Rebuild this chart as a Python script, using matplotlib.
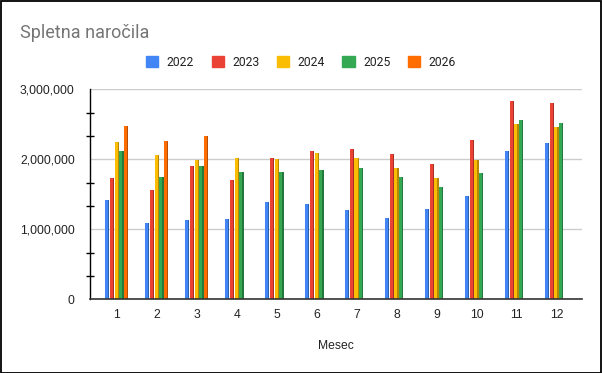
import matplotlib
matplotlib.use("Agg")
import matplotlib.pyplot as plt
import matplotlib.patches as mpatches
from matplotlib.ticker import FuncFormatter, MultipleLocator
from matplotlib.colors import to_rgb
import numpy as np

months = [1, 2, 3, 4, 5, 6, 7, 8, 9, 10, 11, 12]
years = ['2022', '2023', '2024', '2025', '2026']

orders_2022 = [1414000, 1086000, 1129000, 1143000, 1386000, 1357000,
               1271000, 1157000, 1286000, 1471000, 2114000, 2229000]
orders_2023 = [1729000, 1561000, 1900000, 1700000, 2014000, 2114000,
               2143000, 2071000, 1929000, 2271000, 2829000, 2800000]
orders_2024 = [2247000, 2057000, 1990000, 2014000, 2000000, 2086000,
               2014000, 1871000, 1729000, 1986000, 2500000, 2457000]
orders_2025 = [2119000, 1743000, 1900000, 1814000, 1814000, 1843000,
               1871000, 1743000, 1600000, 1800000, 2557000, 2514000]
orders_2026 = [2476000, 2257000, 2329000]

series = [orders_2022, orders_2023, orders_2024, orders_2025, orders_2026]
colors = ['#4285F4', '#EA4335', '#FBBC04', '#34A853', '#FF6D01']

W, H = 602, 373
fig = plt.figure(figsize=(W / 100, H / 100), dpi=100)
ax = fig.add_axes([90 / W, 1 - 299.3 / H, 492 / W, 210 / H])

slot = 0.12
bar_w = 0.105
for i, (vals, col) in enumerate(zip(series, colors)):
    x = np.array(months[:len(vals)]) + (i - 2) * slot
    dark = tuple(c * 0.72 for c in to_rgb(col))
    ax.bar(x, vals, width=bar_w, color=col, linewidth=0, zorder=3)
    # darker right edge to mimic the bevel look
    ax.bar(x + bar_w * 0.36, vals, width=bar_w * 0.28, color=dark, linewidth=0, zorder=4)

ax.set_xlim(0.33, 12.64)
ax.set_ylim(0, 3000000)

ax.set_yticks([0, 1000000, 2000000, 3000000])
ax.yaxis.set_minor_locator(MultipleLocator(1000000 / 3))
ax.yaxis.set_major_formatter(FuncFormatter(lambda v, p: f'{int(v):,}'))
ax.tick_params(axis='y', which='major', length=0, pad=11, labelsize=8.7, labelcolor='#222222')
ax.tick_params(axis='y', which='minor', length=6, width=1, direction='inout', color='#000000')
for lab in ax.get_yticklabels():
    lab.set_fontfamily('Liberation Sans')

ax.set_xticks(months)
ax.set_xticklabels([str(m) for m in months], fontfamily='Liberation Sans', fontsize=8.7, color='#222222')
ax.tick_params(axis='x', length=0, pad=7)

ax.grid(axis='y', which='major', color='#cccccc', linewidth=1, zorder=0)
for s in ['top', 'right']:
    ax.spines[s].set_visible(False)
ax.spines['left'].set_color('#000000')
ax.spines['left'].set_linewidth(1)
ax.spines['bottom'].set_color('#333333')
ax.spines['bottom'].set_linewidth(1.2)
ax.spines['bottom'].set_zorder(5)

ax.set_xlabel('Mesec', fontfamily='Liberation Sans', fontsize=8.7, color='#222222', labelpad=14)

fig.text(20 / W, 1 - 33 / H, 'Spletna naročila', fontfamily='Roboto', fontsize=13,
         color='#757575', va='center', ha='left')

handles = [mpatches.Patch(color=c, label=y) for c, y in zip(colors, years)]
leg = fig.legend(handles=handles, loc='center', bbox_to_anchor=(301 / W, 1 - 62 / H),
                 ncol=5, frameon=False, handlelength=1.0, handleheight=1.0,
                 handletextpad=0.7, columnspacing=1.45,
                 prop={'family': 'Roboto', 'size': 8.7})
for t in leg.get_texts():
    t.set_color('#222222')

fig.patches.append(mpatches.Rectangle((0.5 / W, 0.5 / H), 1 - 1.5 / W, 1 - 1.5 / H,
                                      transform=fig.transFigure, fill=False,
                                      edgecolor='#000000', linewidth=1.3))

fig.savefig('out.png', dpi=100)
